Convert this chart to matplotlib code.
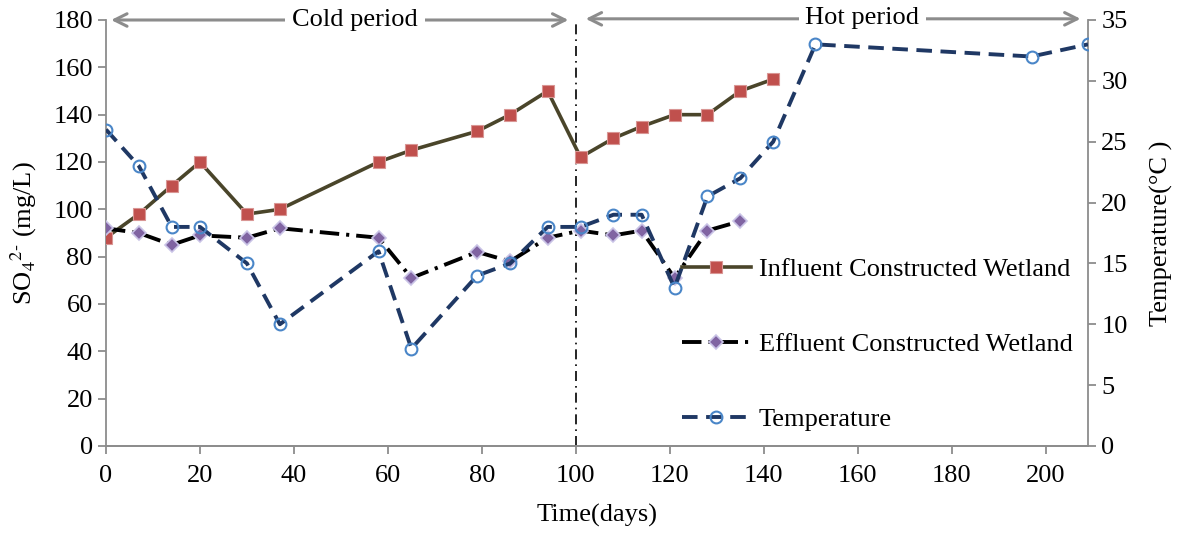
import matplotlib
matplotlib.use("Agg")
import matplotlib.pyplot as plt

plt.rcParams['font.family'] = ['Liberation Serif', 'DejaVu Serif']
plt.rcParams['mathtext.fontset'] = 'stix'

days = [0, 7, 14, 20, 30, 37, 58, 65, 79, 86, 94, 101, 108, 114, 121, 128, 135, 142]
influent = [88, 98, 110, 120, 98, 100, 120, 125, 133, 140, 150, 122, 130, 135, 140, 140, 150, 155]
effluent_days = [0, 7, 14, 20, 30, 37, 58, 65, 79, 86, 94, 101, 108, 114, 121, 128, 135]
effluent = [92, 90, 85, 89, 88, 92, 88, 71, 82, 78, 88, 91, 89, 91, 71, 91, 95]
temp_days = [0, 7, 14, 20, 30, 37, 58, 65, 79, 86, 94, 101, 108, 114, 121, 128, 135, 142, 151, 197, 209]
temperature = [26, 23, 18, 18, 15, 10, 16, 8, 14, 15, 18, 18, 19, 19, 13, 20.5, 22, 25, 33, 32, 33]

x_ticks = list(range(0, 201, 20))
y_ticks = list(range(0, 181, 20))
t_ticks = list(range(0, 36, 5))

fs = 19
gray = '#8c8c8c'

fig = plt.figure(figsize=(11.84, 5.33), dpi=100)
ax = fig.add_axes([106/1184, 1-446/533, (1088-106)/1184, (446-20)/533])
ax2 = ax.twinx()

l1, = ax.plot(days, influent, color='#4A452A', lw=2.6, marker='s', ms=8.5,
              mfc='#C0504D', mec='#D99694', mew=0.8, zorder=3,
              label='Influent Constructed Wetland')
l2, = ax.plot(effluent_days, effluent, color='black', lw=2.8,
              dashes=(5, 1.8, 0.8, 1.8), marker='D', ms=7,
              mfc='#8064A2', mec='#C9C3E6', mew=1.2, zorder=3,
              label='Effluent Constructed Wetland')
l3, = ax2.plot(temp_days, temperature, color='#1F3864', lw=2.8,
               dashes=(4, 2.2), marker='o', ms=8.5, mfc='none',
               mec='#4A86C8', mew=1.5, zorder=3, label='Temperature')

ax.axvline(100, color='black', lw=1.2, dashes=(6, 3, 1, 3), zorder=2)

ax.set_xlim(0, 209)
ax.set_ylim(0, 180)
ax2.set_ylim(0, 35)
ax.set_xticks(x_ticks)
ax.set_yticks(y_ticks)
ax2.set_yticks(t_ticks)

for a in (ax, ax2):
    for s in a.spines.values():
        s.set_color(gray)
        s.set_linewidth(1.3)
    a.spines['top'].set_visible(False)
    a.tick_params(colors=gray, labelcolor='black', labelsize=fs, width=1.3, length=6, direction='out')
ax.spines['right'].set_visible(False)
ax2.spines['left'].set_visible(False)
ax.tick_params(axis='x', pad=8)

ax.set_xlabel('Time(days)', fontsize=fs, labelpad=12)
ax.set_ylabel('SO$_4$$^{2\\text{-}}$ (mg/L)', fontsize=fs, labelpad=10)
ax2.set_ylabel('Temperature(°C )', fontsize=fs, labelpad=16)

# period arrows
arrow_kw = dict(arrowstyle='<->,head_length=0.9,head_width=0.45', color=gray, lw=2.2)
ax.annotate('', xy=(0.5, 180), xytext=(99, 180), arrowprops=arrow_kw, annotation_clip=False)
ax.annotate('', xy=(101.5, 180.5), xytext=(208, 180.5), arrowprops=arrow_kw, annotation_clip=False)
ax.text(53, 180, 'Cold period', fontsize=fs, ha='center', va='center',
        bbox=dict(fc='white', ec='none', pad=5), zorder=5)
ax.text(161, 181, 'Hot period', fontsize=fs, ha='center', va='center',
        bbox=dict(fc='white', ec='none', pad=5), zorder=5)

leg = ax2.legend(handles=[l1, l2, l3], loc='upper left',
                 bbox_to_anchor=(682/1184, 1-258/533), bbox_transform=fig.transFigure,
                 frameon=False, fontsize=fs, borderpad=0, borderaxespad=0,
                 handlelength=2.6, handletextpad=0.3, labelspacing=1.95)

fig.savefig('out.png', dpi=100)
